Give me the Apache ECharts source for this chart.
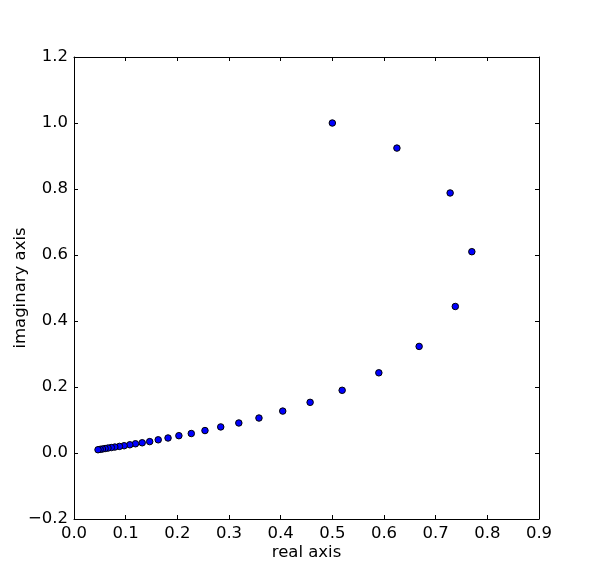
<!DOCTYPE html>
<html>
<head>
<meta charset="utf-8">
<script src="https://cdn.jsdelivr.net/npm/echarts@6/dist/echarts.min.js"></script>
<style>html,body{margin:0;padding:0;background:#fff}#c{width:600px;height:578px}</style>
</head>
<body>
<div id="c"></div>
<script>
const realValues = [0.500, 0.625, 0.728, 0.770, 0.738, 0.668, 0.590, 0.519, 0.457, 0.404,
  0.358, 0.319, 0.284, 0.2535, 0.227, 0.203, 0.182, 0.163, 0.1465, 0.132,
  0.119, 0.108, 0.097, 0.088, 0.079, 0.0722, 0.0658, 0.0602, 0.0551, 0.0507, 0.0465];
const imagValues = [1.000, 0.924, 0.788, 0.610, 0.444, 0.323, 0.243, 0.190, 0.1535, 0.127,
  0.106, 0.091, 0.079, 0.068, 0.059, 0.0525, 0.0455, 0.040, 0.0345, 0.031,
  0.028, 0.025, 0.022, 0.020, 0.018, 0.0165, 0.0150, 0.0135, 0.0122, 0.0110, 0.0099];
const xTicks = [0, 0.9, 0.1];
const yTicks = [-0.2, 1.2, 0.2];

const points = realValues.map((r, i) => [r, imagValues[i]]);
const font = 'DejaVu Sans';
const fs = 16.5;
const fmt = v => { const s = v.toFixed(1); return v < -1e-9 ? '\u2212' + s.slice(1) : s; };

const baseAxis = {
  axisLine: { show: true, onZero: false, lineStyle: { color: '#000', width: 1 } },
  axisTick: { show: true, inside: true, length: 4, lineStyle: { color: '#000', width: 1 } },
  splitLine: { show: false },
};

const chart = echarts.init(document.getElementById('c'), null, { renderer: 'canvas' });
chart.setOption({
  animation: false,
  backgroundColor: '#fff',
  grid: { left: 74, top: 57, right: 61, bottom: 59, containLabel: false, outerBoundsMode: 'none' },
  xAxis: [
    Object.assign({}, baseAxis, {
      type: 'value', position: 'bottom', min: xTicks[0], max: xTicks[1], interval: xTicks[2],
      name: 'real axis', nameLocation: 'middle', nameGap: 25, nameMoveOverlap: false,
      nameTextStyle: { fontFamily: font, fontSize: fs, color: '#000' },
      axisLabel: { show: true, formatter: fmt, fontFamily: font, fontSize: fs, color: '#000', margin: 6 }
    }),
    Object.assign({}, baseAxis, {
      type: 'value', position: 'top', min: xTicks[0], max: xTicks[1], interval: xTicks[2],
      axisLabel: { show: false }
    })
  ],
  yAxis: [
    Object.assign({}, baseAxis, {
      type: 'value', position: 'left', min: yTicks[0], max: yTicks[1], interval: yTicks[2],
      name: 'imaginary axis', nameLocation: 'middle', nameGap: 45, nameRotate: 90, nameMoveOverlap: false,
      nameTextStyle: { fontFamily: font, fontSize: fs, color: '#000' },
      axisLabel: { show: true, formatter: fmt, fontFamily: font, fontSize: fs, color: '#000', margin: 6 }
    }),
    Object.assign({}, baseAxis, {
      type: 'value', position: 'right', min: yTicks[0], max: yTicks[1], interval: yTicks[2],
      axisLabel: { show: false }
    })
  ],
  series: [{
    type: 'scatter',
    xAxisIndex: 0, yAxisIndex: 0,
    data: points,
    symbol: 'circle',
    symbolSize: 6.5,
    itemStyle: { color: '#0000ff', borderColor: '#000', borderWidth: 1, opacity: 1 }
  }]
});
</script>
</body>
</html>
